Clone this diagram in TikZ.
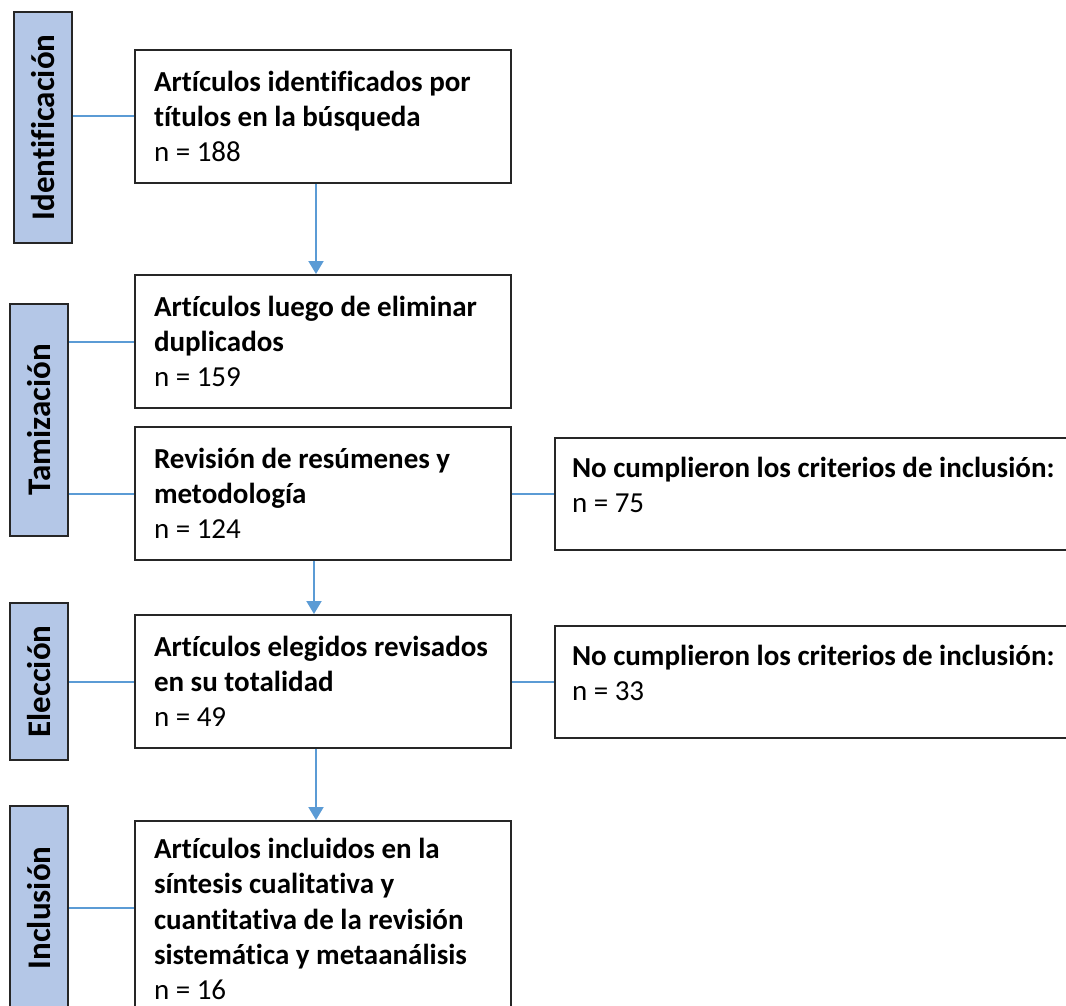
\documentclass[tikz,border=0pt]{standalone}
\usepackage{fontspec}
\setmainfont{Carlito}[Ligatures={NoCommon,NoRare,NoContextual}]
\usepackage{graphicx}
\usepackage{tikz}
\usetikzlibrary{arrows.meta, positioning}
\tikzset{>={Triangle[width=15pt,length=13pt]}}
\definecolor{linkblue}{HTML}{5B9BD5}
\definecolor{phaseblue}{HTML}{B4C7E7}
\definecolor{boxgray}{HTML}{262626}
\hyphenpenalty=10000
\newcommand{\stagefont}{\fontsize{29}{35.3}\selectfont}

\begin{document}
\begin{tikzpicture}[x=1pt, y=-1pt,
    stage/.style = {draw=boxgray, line width=2pt, fill=white, align=flush left, text width=338pt,
                    inner xsep=19pt, minimum height=133pt, font=\stagefont},
    excl/.style = {stage, text width=500pt, inner xsep=17pt, minimum height=112pt},
    phase/.style = {draw=boxgray, line width=2pt, fill=phaseblue, minimum width=58pt,
                    inner sep=0pt, font=\fontsize{33}{40}\selectfont\bfseries},
    link/.style = {linkblue, line width=2pt}]
	\useasboundingbox (0,0) rectangle (1066,1006);
	\clip (0,0) rectangle (1066,1006);
		% fases
		\node (ident) [phase, minimum height=231pt] at (43,127.5) {\rotatebox{90}{Identificación}};
		\node (tamiz) [phase, minimum height=232pt] at (39,420) {\rotatebox{90}{Tamización}};
		\node (elecc) [phase, minimum height=157pt] at (39,681.5) {\rotatebox{90}{Elección}};
		\node (inclu) [phase, minimum height=204pt] at (39,908) {\rotatebox{90}{Inclusión}};
		% cajas
		\node (art) [stage] at (323,116.5) {\textbf{Artículos identificados por}\\ \textbf{títulos en la búsqueda}\\ n = 188};
		\node (dup) [stage, below = 90pt of art] {\textbf{Artículos luego de eliminar}\\ \textbf{duplicados}\\ n = 159};
		\node (rev) [stage, below = 17pt of dup] {\textbf{Revisión de resúmenes y}\\ \textbf{metodología}\\ n = 124};
		\node (tot) [stage, below = 53pt of rev] {\textbf{Artículos elegidos revisados}\\ \textbf{en su totalidad}\\ n = 49};
		\node (sin) [stage, minimum height=196pt, below = 71pt of tot] {\textbf{Artículos incluidos en la}\\ \textbf{síntesis cualitativa y}\\ \textbf{cuantitativa de la revisión}\\ \textbf{sistemática y metaanálisis}\\ n = 16};
		\node (noinc1) [excl, right = 42pt of rev] {\textbf{No cumplieron los criterios de inclusión:}\\ n = 75\\[-18.5pt]\mbox{}};
		\node (noinc2) [excl, right = 42pt of tot] {\textbf{No cumplieron los criterios de inclusión:}\\ n = 33\\[-18.5pt]\mbox{}};
		% conectores
		\draw[link, ->] ([xshift=-7pt]art.south) -- ([xshift=-7pt]dup.north);
		\draw[link, ->] ([xshift=-9pt]rev.south) -- ([xshift=-9pt]tot.north);
		\draw[link, ->] ([xshift=-7pt]tot.south) -- ([xshift=-7pt]sin.north);
		\draw[link] (art.west) -- (art.west -| ident.east);
		\draw[link] (dup.west) -- (dup.west -| tamiz.east);
		\draw[link] (rev.west) -- (rev.west -| tamiz.east);
		\draw[link] (tot.west) -- (tot.west -| elecc.east);
		\draw[link] (inclu.east) -- (inclu.east -| sin.west);
		\draw[link] (rev.east) -- (rev.east -| noinc1.west);
		\draw[link] (tot.east) -- (tot.east -| noinc2.west);
\end{tikzpicture}
\end{document}
